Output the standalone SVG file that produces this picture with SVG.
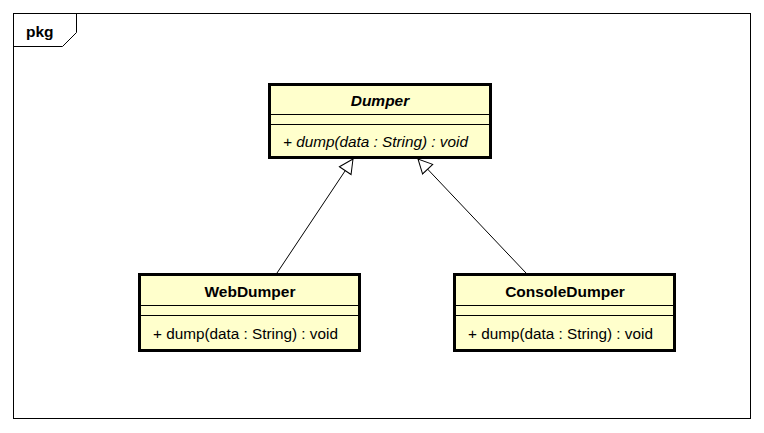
<svg xmlns="http://www.w3.org/2000/svg" width="764" height="433" viewBox="0 0 764 433">
<defs>
<style>
.cls{fill:#FFFFCC;stroke:#000;stroke-width:3}
.sep{stroke:#000;stroke-width:1;fill:none}
.name{font-family:"Liberation Sans",Arial,sans-serif;font-size:15.5px;font-weight:bold;text-anchor:middle}
.op{font-family:"Liberation Sans",Arial,sans-serif;font-size:15.3px}
.conn{stroke:#000;stroke-width:1;fill:none}
</style>
<marker id="gen" viewBox="0 0 16 16" refX="15" refY="8" markerWidth="16" markerHeight="16" markerUnits="userSpaceOnUse" orient="auto">
<path d="M1,1 L15,8 L1,15 Z" fill="#fff" stroke="#000" stroke-width="1"/>
</marker>
</defs>
<rect width="764" height="433" fill="#fff"/>
<g id="frame">
<rect x="13.5" y="13.5" width="737" height="405" fill="none" stroke="#000"/>
<path d="M13.5,46.5 L62.5,46.5 L76.5,32.5 L76.5,13.5" fill="none" stroke="#000"/>
<text x="26" y="37" style="font-family:'Liberation Sans',Arial,sans-serif;font-size:15.5px;font-weight:bold">pkg</text>
</g>
<g id="connectors">
<line class="conn" x1="277" y1="273" x2="353" y2="159" marker-end="url(#gen)"/>
<line class="conn" x1="526" y1="273" x2="418" y2="159" marker-end="url(#gen)"/>
</g>
<g id="Dumper">
<rect class="cls" x="269.5" y="84.5" width="221" height="73"/>
<line class="sep" x1="269" y1="114.5" x2="491" y2="114.5"/>
<line class="sep" x1="269" y1="124.5" x2="491" y2="124.5"/>
<text class="name" x="380" y="106" font-style="italic">Dumper</text>
<text class="op" x="283" y="147" font-style="italic">+ dump(data : String) : void</text>
</g>
<g id="WebDumper">
<rect class="cls" x="139.5" y="274.5" width="220" height="76"/>
<line class="sep" x1="139" y1="305.5" x2="360" y2="305.5"/>
<line class="sep" x1="139" y1="315.5" x2="360" y2="315.5"/>
<text class="name" x="250" y="297">WebDumper</text>
<text class="op" x="153" y="339">+ dump(data : String) : void</text>
</g>
<g id="ConsoleDumper">
<rect class="cls" x="454.5" y="274.5" width="220" height="76"/>
<line class="sep" x1="454" y1="305.5" x2="675" y2="305.5"/>
<line class="sep" x1="454" y1="315.5" x2="675" y2="315.5"/>
<text class="name" x="565" y="297">ConsoleDumper</text>
<text class="op" x="468" y="339">+ dump(data : String) : void</text>
</g>
</svg>
